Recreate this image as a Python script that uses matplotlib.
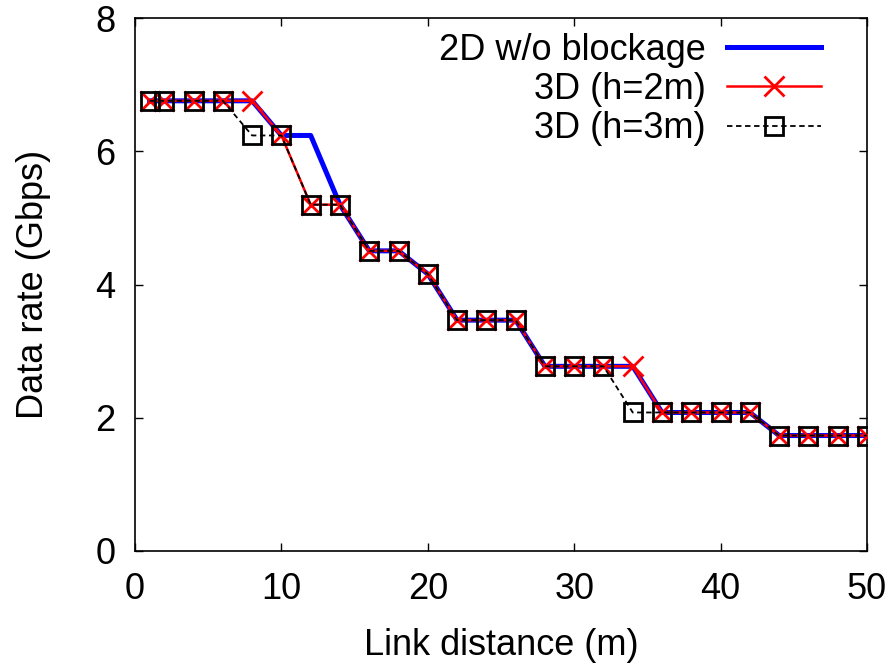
import matplotlib
matplotlib.use("Agg")
import matplotlib.pyplot as plt

plt.rcParams['font.family'] = ['Liberation Sans', 'DejaVu Sans']

distance = [1, 2, 4, 6, 8, 10, 12, 14, 16, 18, 20, 22, 24, 26, 28, 30, 32, 34,
            36, 38, 40, 42, 44, 46, 48, 50]
rate_2d = [6.757, 6.757, 6.757, 6.757, 6.757, 6.237, 6.237, 5.198, 4.505, 4.505,
           4.158, 3.465, 3.465, 3.465, 2.772, 2.772, 2.772, 2.772,
           2.079, 2.079, 2.079, 2.079, 1.733, 1.733, 1.733, 1.733]
rate_h2 = [6.757, 6.757, 6.757, 6.757, 6.757, 6.237, 5.198, 5.198, 4.505, 4.505,
           4.158, 3.465, 3.465, 3.465, 2.772, 2.772, 2.772, 2.772,
           2.079, 2.079, 2.079, 2.079, 1.733, 1.733, 1.733, 1.733]
rate_h3 = [6.757, 6.757, 6.757, 6.757, 6.237, 6.237, 5.198, 5.198, 4.505, 4.505,
           4.158, 3.465, 3.465, 3.465, 2.772, 2.772, 2.772, 2.079,
           2.079, 2.079, 2.079, 2.079, 1.733, 1.733, 1.733, 1.733]

labels = ['2D w/o blockage', '3D (h=2m)', '3D (h=3m)']
xticks = [0, 10, 20, 30, 40, 50]
yticks = [0, 2, 4, 6, 8]

fig = plt.figure(figsize=(8.93, 6.70), dpi=100)
ax = fig.add_axes([135/893, 1 - 551/670, (867-135)/893, (551-18)/670])

ax.plot(distance, rate_2d, color='#0000ff', lw=3.6, label=labels[0], zorder=2)
ax.plot(distance, rate_h2, color='#ff0000', lw=1.8, marker='x', markersize=14,
        markeredgewidth=2, label=labels[1], zorder=3)
ax.plot(distance, rate_h3, color='black', lw=1.3, linestyle=(0, (3, 2)),
        marker='s', markersize=12.5, markerfacecolor='none', markeredgewidth=2,
        label=labels[2], zorder=4)

ax.set_xlim(0, 50)
ax.set_ylim(0, 8)
ax.set_xticks(xticks)
ax.set_yticks(yticks)
ax.tick_params(direction='in', top=True, right=True, length=6, width=1,
               labelsize=26)
ax.tick_params(axis='x', pad=15)
ax.tick_params(axis='y', pad=14)
for s in ax.spines.values():
    s.set_linewidth(1.2)

ax.set_xlabel('Link distance (m)', fontsize=26, labelpad=15)
ax.set_ylabel('Data rate (Gbps)', fontsize=26, labelpad=32)

leg = ax.legend(loc='upper right', bbox_to_anchor=(0.972, 1.02), frameon=False,
                markerfirst=False, fontsize=26, handlelength=2.6,
                labelspacing=0.12, handletextpad=0.6, borderpad=0.2)

fig.savefig('out.png', dpi=100)
